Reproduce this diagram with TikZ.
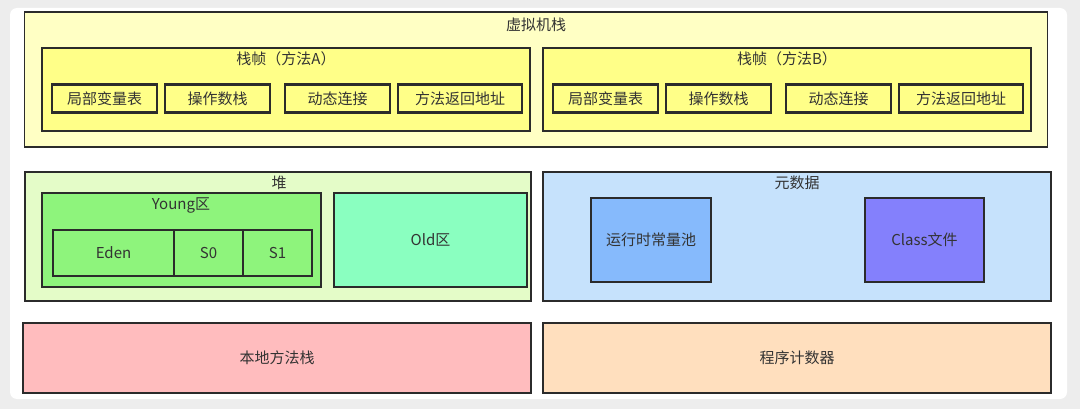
\documentclass[tikz,border=0pt]{standalone}
\usepackage{fontspec}
\setmainfont{Noto Sans CJK SC}
\usepackage{tikz}
\usetikzlibrary{positioning}
\usepackage{xcolor}
\definecolor{pagebg}{HTML}{EDEDED}
\definecolor{linec}{HTML}{2B2B2B}
\definecolor{txtc}{HTML}{333333}
\definecolor{stackbg}{HTML}{FFFFC4}
\definecolor{frameyel}{HTML}{FFFF88}
\definecolor{heapbg}{HTML}{E4FCC8}
\definecolor{youngg}{HTML}{8EF47C}
\definecolor{oldg}{HTML}{8AFFC0}
\definecolor{metabg}{HTML}{C6E2FC}
\definecolor{poolb}{HTML}{86BAFC}
\definecolor{classb}{HTML}{8480FC}
\definecolor{nativer}{HTML}{FFBCBE}
\definecolor{pcor}{HTML}{FFDFBE}

\begin{document}
\begin{tikzpicture}[x=1pt,y=-1pt,node distance=8pt,
	box/.style={draw=linec,line width=1.6pt,inner sep=0pt,outer sep=0pt,text=txtc,font=\fontsize{15}{17}\selectfont},
	item/.style={box,line width=2.4pt,fill=frameyel,minimum width=105pt,minimum height=28pt},
	ttl/.style={text=txtc,inner sep=0pt,font=\fontsize{15}{17}\selectfont}]
		% page and card
		\fill[pagebg] (0,0) rectangle (1080,409);
		\fill[white,rounded corners=7pt] (10,8) rectangle (1067,399);
		% vm stack
		\node[box,fill=stackbg,minimum width=1023pt,minimum height=135pt] (vm) at (536,79.5) {};
		\node[ttl] (vmt) at (536,25) {虚拟机栈};
		\node[box,line width=2pt,fill=frameyel,minimum width=488pt,minimum height=83pt] (fa) at (286,90) {};
		\node[ttl] (fat) at (286,59) {栈帧（方法A）};
		\node[item]          (a1) at (104.5,98.5)  {局部变量表};
		\node[item]          (a2) [right =of a1]     {操作数栈};
		\node[item]          (a3) [right =15pt of a2] {动态连接};
		\node[item,minimum width=124pt] (a4) [right =of a3] {方法返回地址};
		\node[box,line width=2pt,fill=frameyel,minimum width=488pt,minimum height=83pt] (fb) at (787,90) {};
		\node[ttl] (fbt) at (787,59) {栈帧（方法B）};
		\node[item]          (b1) at (605.5,98.5)  {局部变量表};
		\node[item]          (b2) [right =of b1]     {操作数栈};
		\node[item]          (b3) [right =15pt of b2] {动态连接};
		\node[item,minimum width=124pt] (b4) [right =of b3] {方法返回地址};
		% heap
		\node[box,fill=heapbg,minimum width=506pt,minimum height=129pt] (heap) at (278,236.5) {};
		\node[ttl] (heapt) at (279,183) {堆};
		\node[box,line width=2pt,fill=youngg,minimum width=279pt,minimum height=94pt] (young) at (181.5,240) {};
		\node[ttl] (youngt) at (181,205) {Young区};
		\tikzset{gen/.style={box,line width=2pt,fill=youngg,minimum width=69pt,minimum height=46pt}}
		\node[gen,minimum width=121pt] (eden) at (113.5,253) {Eden};
		\node[gen]           (s0) [right =0pt of eden] {S0};
		\node[gen]           (s1) [right =0pt of s0]   {S1};
		\node[box,line width=2pt,fill=oldg,minimum width=193pt,minimum height=94pt] (old) at (430.5,240) {Old区};
		% metadata
		\node[box,fill=metabg,minimum width=508pt,minimum height=129pt] (meta) at (797,236.5) {};
		\node[ttl] (metat) at (797,183) {元数据};
		\node[box,line width=2.2pt,fill=poolb,minimum width=120pt,minimum height=84pt] (pool) at (651,240) {运行时常量池};
		\node[box,line width=2.2pt,fill=classb,minimum width=119pt,minimum height=84pt] (cls) at (924.5,240) {Class文件};
		% bottom row
		\node[box,fill=nativer,minimum width=508pt,minimum height=70pt] (native) at (277,358) {本地方法栈};
		\node[box,fill=pcor,minimum width=508pt,minimum height=70pt] (pc) at (797,358) {程序计数器};
	\end{tikzpicture}
\end{document}
